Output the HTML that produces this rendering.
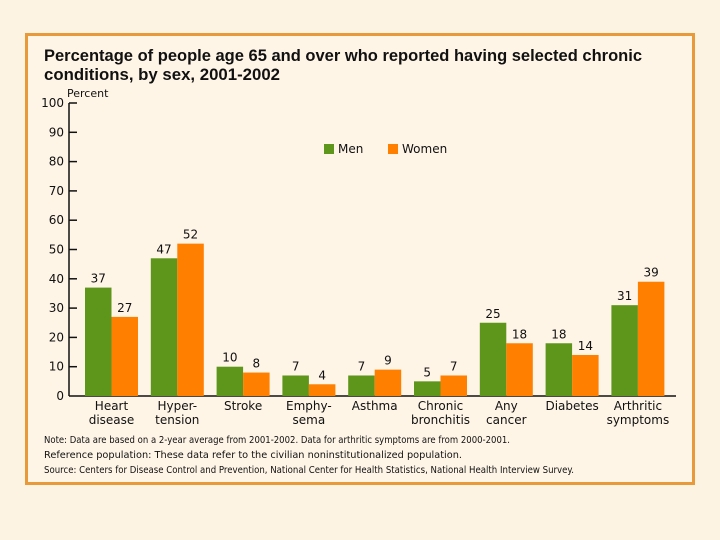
<!DOCTYPE html>
<html><head><meta charset="utf-8"><style>
html,body{margin:0;padding:0;width:720px;height:540px;background:#fdf3e3;overflow:hidden}
svg{display:block;font-family:"DejaVu Sans","Liberation Sans",sans-serif}
</style></head><body>
<svg width="720" height="540" viewBox="0 0 720 540">
<rect x="0" y="0" width="720" height="540" fill="#fdf3e3"/>
<rect x="26.5" y="34.5" width="667" height="449" fill="#fef5e7" stroke="#e8993a" stroke-width="3"/>
<text x="44" y="61" font-size="17" font-weight="bold" fill="#111" font-family="Liberation Sans, sans-serif" textLength="598" lengthAdjust="spacingAndGlyphs">Percentage of people age 65 and over who reported having selected chronic</text>
<text x="44" y="80" font-size="17" font-weight="bold" fill="#111" font-family="Liberation Sans, sans-serif" textLength="236" lengthAdjust="spacingAndGlyphs">conditions, by sex, 2001-2002</text>
<text x="67" y="97" font-size="11" fill="#111">Percent</text>
<g id="axes"></g>
<g id="bars"></g>
<g>
<rect x="324" y="144" width="10" height="10" fill="#5e961c"/>
<text x="338" y="153" font-size="12" fill="#111">Men</text>
<rect x="388" y="144" width="10" height="10" fill="#ff7f00"/>
<text x="402" y="153" font-size="12" fill="#111">Women</text>
</g>
<g font-size="9.5" fill="#111">
<text x="44" y="443" textLength="466" lengthAdjust="spacingAndGlyphs">Note: Data are based on a 2-year average from 2001-2002. Data for arthritic symptoms are from 2000-2001.</text>
<text x="44" y="458" textLength="418" lengthAdjust="spacingAndGlyphs">Reference population: These data refer to the civilian noninstitutionalized population.</text>
<text x="44" y="473" textLength="530" lengthAdjust="spacingAndGlyphs">Source: Centers for Disease Control and Prevention, National Center for Health Statistics, National Health Interview Survey.</text>
</g>
</svg>
<script>
const categories1 = ["Heart","Hyper-","Stroke","Emphy-","Asthma","Chronic","Any","Diabetes","Arthritic"];
const categories2 = ["disease","tension","","sema","","bronchitis","cancer","","symptoms"];
const menValues = [37,47,10,7,7,5,25,18,31];
const womenValues = [27,52,8,4,9,7,18,14,39];
const yTicks = [0,10,20,30,40,50,60,70,80,90,100];

const NS="http://www.w3.org/2000/svg";
const y0=396, y100=103, axisX=69, firstX=85, step=65.8, bw=26.5;
function yScale(v){return y0-(y0-y100)*v/100;}
function xScale(i){return firstX+i*step;}
function mk(tag,attrs,parent){const e=document.createElementNS(NS,tag);for(const k in attrs)e.setAttribute(k,attrs[k]);parent.appendChild(e);return e;}
const axes=document.getElementById('axes'), bars=document.getElementById('bars');

let l=mk('line',{x1:axisX,y1:y100,x2:axisX,y2:y0,stroke:'#111','stroke-width':1.5},axes);


l=mk('line',{x1:axisX,y1:y0,x2:676,y2:y0,stroke:'#111','stroke-width':1.5},axes);


yTicks.forEach(t=>{
  const y=yScale(t);
  if(t>0){const tk=mk('line',{x1:axisX,y1:y,x2:axisX+8,y2:y,stroke:'#111','stroke-width':1.5},axes);
  
  }
  const tx=mk('text',{x:axisX-5,y:y+4,'font-size':12,'text-anchor':'end',fill:'#111'},axes);
  tx.textContent=t;
  
  
});
categories1.forEach((c,i)=>{
  const x=xScale(i);
  [[menValues[i],'#5e961c','men'],[womenValues[i],'#ff7f00','women']].forEach((s,j)=>{
    const bx=x+j*bw, y=yScale(s[0]);
    const r=mk('rect',{x:bx,y:y,width:bw,height:y0-y,fill:s[1]},bars);
    
    
    const v=mk('text',{x:bx+bw/2,y:y-5,'font-size':12,'text-anchor':'middle',fill:'#111'},bars);
    v.textContent=s[0];
    
    
  });
  const cx=x+bw;
  const t1=mk('text',{x:cx,y:410,'font-size':12,'text-anchor':'middle',fill:'#111'},bars);
  t1.textContent=c;
  
  
  if(categories2[i]){const t2=mk('text',{x:cx,y:424,'font-size':12,'text-anchor':'middle',fill:'#111'},bars);
  t2.textContent=categories2[i];
  
  }
});
</script>
</body></html>
